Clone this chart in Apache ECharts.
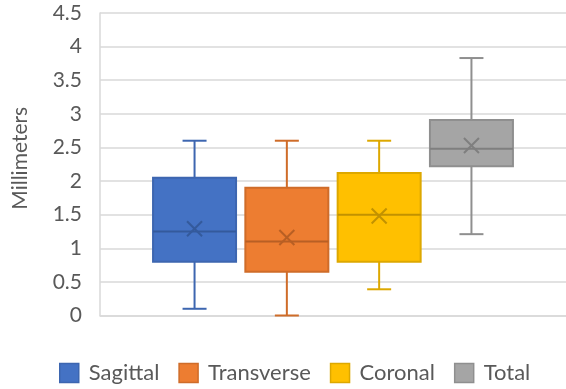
<!DOCTYPE html>
<html><head><meta charset="utf-8">
<script src="https://cdn.jsdelivr.net/npm/echarts@6/dist/echarts.min.js"></script>
<style>html,body{margin:0;padding:0;background:#fff}#c{width:566px;height:389px}</style>
</head><body><div id="c"></div>
<script>
// ---- data ----
const seriesNames = ['Sagittal', 'Transverse', 'Coronal', 'Total'];
const minValues    = [0.10, 0.00, 0.39, 1.21];
const q1Values     = [0.80, 0.65, 0.80, 2.22];
const medianValues = [1.25, 1.10, 1.50, 2.48];
const q3Values     = [2.05, 1.90, 2.12, 2.91];
const maxValues    = [2.60, 2.60, 2.60, 3.83];
const meanValues   = [1.29, 1.16, 1.48, 2.53];
const yTickLabels  = ['0', '0.5', '1', '1.5', '2', '2.5', '3', '3.5', '4', '4.5'];

// ---- styling ----
const fills   = ['#4472C4', '#ED7D31', '#FFC000', '#A5A5A5'];
const borders = ['#3D66B0', '#CF6C29', '#DDA800', '#8F8F8F'];
const marks   = ['#345A9C', '#B85F24', '#C29200', '#7F7F7F'];
const PITCH = 92.3, BOX_W = 83, CAP_W = 24, X_HALF = 7.5;
const FONT = 'Lato';

function makeRender(idx) {
  return function (params, api) {
    const c = api.coord([0, 0])[0];
    const cx = c + (idx - (seriesNames.length - 1) / 2) * PITCH;
    const y = k => api.coord([0, api.value(k)])[1];
    const yMin = y(1), yQ1 = y(2), yMed = y(3), yQ3 = y(4), yMax = y(5), yMean = y(6);
    const lineStyle = { stroke: borders[idx], lineWidth: 2 };
    const markStyle = { stroke: marks[idx], lineWidth: 2 };
    const L = BOX_W / 2;
    return {
      type: 'group',
      children: [
        { type: 'line', shape: { x1: cx, y1: yMax, x2: cx, y2: yQ3 }, style: lineStyle },
        { type: 'line', shape: { x1: cx, y1: yQ1, x2: cx, y2: yMin }, style: lineStyle },
        { type: 'line', shape: { x1: cx - CAP_W / 2, y1: yMax, x2: cx + CAP_W / 2, y2: yMax }, style: lineStyle },
        { type: 'line', shape: { x1: cx - CAP_W / 2, y1: yMin, x2: cx + CAP_W / 2, y2: yMin }, style: lineStyle },
        { type: 'rect', shape: { x: cx - L, y: yQ3, width: BOX_W, height: yQ1 - yQ3 },
          style: { fill: fills[idx], stroke: borders[idx], lineWidth: 2 } },
        { type: 'line', shape: { x1: cx - L, y1: yMed, x2: cx + L, y2: yMed }, style: markStyle },
        { type: 'line', shape: { x1: cx - X_HALF, y1: yMean - X_HALF, x2: cx + X_HALF, y2: yMean + X_HALF }, style: markStyle },
        { type: 'line', shape: { x1: cx - X_HALF, y1: yMean + X_HALF, x2: cx + X_HALF, y2: yMean - X_HALF }, style: markStyle }
      ]
    };
  };
}

const series = seriesNames.map((name, i) => ({
  name: name,
  type: 'custom',
  renderItem: makeRender(i),
  itemStyle: { color: fills[i], borderColor: borders[i], borderWidth: 2 },
  encode: { x: 0, y: [1, 2, 3, 4, 5, 6] },
  data: [[0, minValues[i], q1Values[i], medianValues[i], q3Values[i], maxValues[i], meanValues[i]]],
  z: 3
}));

const chart = echarts.init(document.getElementById('c'), null, { renderer: 'canvas' });
chart.setOption({
  animation: false,
  backgroundColor: '#fff',
  grid: { left: 100, right: -3, top: 13, bottom: 73.5, containLabel: false },
  xAxis: {
    type: 'category', data: [''],
    axisLine: { show: true, lineStyle: { color: '#D9D9D9', width: 1.5 } },
    axisTick: { show: false }, axisLabel: { show: false }
  },
  yAxis: {
    type: 'value', min: 0, max: 4.5, interval: 0.5,
    axisLine: { show: true, lineStyle: { color: '#D9D9D9', width: 1.5 } },
    axisTick: { show: false },
    splitLine: { show: true, lineStyle: { color: '#D9D9D9', width: 1.5 } },
    axisLabel: {
      color: '#595959', fontFamily: FONT, fontSize: 21, margin: 18,
      formatter: (v) => yTickLabels[Math.round(v / 0.5)]
    },
    name: 'Millimeters', nameLocation: 'middle', nameGap: 69,
    nameTextStyle: { color: '#595959', fontFamily: FONT, fontSize: 21, padding: [0, 0, 0, 12] }
  },
  legend: {
    data: seriesNames.map((n, i) => ({ name: n, icon: 'rect',
      itemStyle: { color: fills[i], borderColor: borders[i], borderWidth: 1.5 } })),
    left: 59, top: 362, padding: 0,
    itemWidth: 19, itemHeight: 19, itemGap: 19,
    selectedMode: false,
    textStyle: { color: '#595959', fontFamily: FONT, fontSize: 22, padding: [0, 0, 0, 5] }
  },
  series: series
});
</script>
</body></html>
